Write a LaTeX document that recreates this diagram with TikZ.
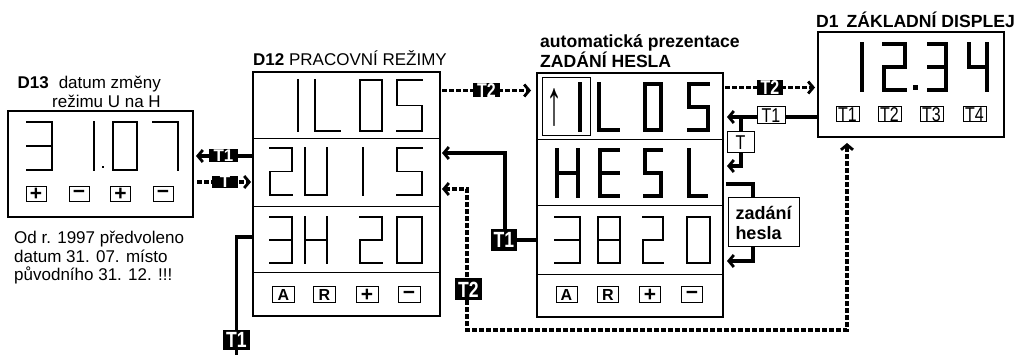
\documentclass[tikz,border=0pt]{standalone}
\usepackage{fontspec}
\setmainfont{Liberation Sans}
\newfontfamily\narrowsf[FakeStretch=0.8]{Liberation Sans}
\usetikzlibrary{arrows.meta,backgrounds}
\def\gZero{(0,0)--(1,0)--(1,1)--(0,1)--cycle}
\def\gOne{(0,0)--(0,1)}
\def\gTwo{(0,0)--(1,0)--(1,.5)--(0,.5)--(0,1)--(1,1)}
\def\gThree{(0,0)--(1,0)--(1,1)--(0,1) (0,.5)--(1,.5)}
\def\gFour{(0,0)--(0,.5)--(1,.5) (1,0)--(1,1)}
\def\gFive{(1,0)--(0,0)--(0,.5)--(1,.5)--(1,1)--(0,1)}
\def\gSeven{(0,0)--(1,0)--(1,1)}
\def\gEight{(0,0)--(1,0)--(1,1)--(0,1)--cycle (0,.5)--(1,.5)}
\def\gH{(0,0)--(0,1) (1,0)--(1,1) (0,.5)--(1,.5)}
\def\gL{(0,0)--(0,1)--(1,1)}
\def\gU{(0,0)--(0,1)--(1,1)--(1,0)}
\def\gE{(1,0)--(0,0)--(0,1)--(1,1) (0,.5)--(1,.5)}
\newcommand{\glyph}[6]{\draw[#1,shift={(#2,#3)},xscale=#4,yscale=#5] #6;}
\begin{document}
\begin{tikzpicture}[x=1pt,y=-1pt,
  frame/.style={draw, line width=2pt, inner sep=0pt, outer sep=0pt},
  thinseg/.style={line width=1.6pt, line cap=rect, line join=miter},
  thickseg/.style={line width=4.2pt, line cap=rect, line join=miter},
  divider/.style={line width=1pt},
  txt/.style={inner sep=0pt, font=\fontsize{17}{19}\selectfont},
  btxt/.style={inner sep=0pt, font=\bfseries\fontsize{17.6}{19}\selectfont},
  btn/.style={draw, line width=1pt, inner sep=0pt, minimum height=15pt, font=\bfseries\fontsize{16}{16}\selectfont},
  sgn/.style={font=\bfseries\fontsize{21}{21}\selectfont},
  dbtn/.style={draw, line width=1pt, inner sep=0pt, minimum height=15pt, minimum width=23pt, font=\narrowsf\fontsize{20}{20}\selectfont},
  blk/.style={fill=black, text=white, inner sep=0pt, font=\bfseries\fontsize{17}{17}\selectfont},
  blkmid/.style={fill=black, text=white, inner sep=0pt, font=\narrowsf\bfseries\fontsize{20}{20}\selectfont},
  blkbig/.style={fill=black, text=white, inner sep=0pt, font=\narrowsf\bfseries\fontsize{22}{22}\selectfont},
  wlbl/.style={draw, fill=white, line width=1pt, inner sep=0pt, font=\narrowsf\fontsize{20}{20}\selectfont},
  conn/.style={line width=3.6pt},
  dconn/.style={line width=3.6pt, dash pattern=on 4.5pt off 2.5pt},
  tip/.style={-{Straight Barb[length=5pt,width=12pt,line width=2.8pt]}},
  tipboth/.style={{Straight Barb[length=5pt,width=12pt,line width=2.8pt]}-{Straight Barb[length=5pt,width=12pt,line width=2.8pt]}}
]
\useasboundingbox (0,0) rectangle (1018,355);

% ---------- frames ----------
\node[frame, minimum width=185pt, minimum height=106pt] (d13) at (100.5,164) {};
\node[frame, minimum width=187pt, minimum height=244pt] (d12) at (346.5,194) {};
\node[frame, minimum width=186pt, minimum height=244pt] (m) at (630,195) {};
\node[frame, minimum width=186pt, minimum height=105pt] (d1) at (911,84.5) {};

% ---------- titles ----------
\node[txt, anchor=base east] (t13a) at (161,89) {\textbf{D13}\hspace{10pt}datum změny};
\node[txt, anchor=base east] (t13b) at (161,108) {režimu U na H};
\node[txt, anchor=base west] (n1) at (14,244) {Od r. 1997 předvoleno};
\node[txt, anchor=base west] (n2) at (14,262.5) {datum 31. 07. místo};
\node[txt, anchor=base west] (n3) at (14,281) {původního 31. 12. !!!};
\node[txt, anchor=base west] (t12) at (253,66) {\textbf{D12} PRACOVNÍ REŽIMY};
\node[btxt, anchor=base west] (tma) at (540,48) {automatická prezentace};
\node[btxt, anchor=base west] (tmb) at (540,68) {ZADÁNÍ HESLA};
\node[btxt, anchor=base east] (t1) at (1015,28) {D1\hspace{8pt}ZÁKLADNÍ DISPLEJ};

% ---------- dividers ----------
\foreach \yy in {139,207,273} \draw[divider] (253,\yy) -- (440,\yy);
\foreach \yy in {140,206,275} \draw[divider] (537,\yy) -- (723,\yy);

% ---------- D13 digits ----------
\glyph{thinseg}{27}{122}{25}{48}{\gThree}
\glyph{thinseg}{94}{122}{1}{48}{\gOne}
\fill (101.8,165.8) rectangle +(2.6,2.6);
\glyph{thinseg}{113}{122}{24}{48}{\gZero}
\glyph{thinseg}{153}{122}{25}{48}{\gSeven}

% ---------- D12 digits ----------
\glyph{thinseg}{298}{80}{1}{51}{\gOne}
\glyph{thinseg}{315}{80}{25}{51}{\gL}
\glyph{thinseg}{360}{80}{22}{51}{\gZero}
\glyph{thinseg}{397}{80}{25}{51}{\gFive}
\glyph{thinseg}{270}{148}{22}{47}{\gTwo}
\glyph{thinseg}{305}{148}{22}{47}{\gU}
\glyph{thinseg}{363}{148}{1}{47}{\gOne}
\glyph{thinseg}{397}{148}{25}{47}{\gFive}
\glyph{thinseg}{270}{217}{22}{46}{\gThree}
\glyph{thinseg}{305}{217}{22}{46}{\gH}
\glyph{thinseg}{360}{217}{22}{46}{\gTwo}
\glyph{thinseg}{397}{217}{25}{46}{\gZero}

% ---------- middle digits ----------
\node[draw, line width=1pt, minimum width=48pt, minimum height=58pt, inner sep=0pt] (upbox) at (566,107) {};
\node[inner sep=0pt, font=\fontsize{32}{32}\selectfont] (uparrow) at (554,107) {\scalebox{1}[2]{↑}};
\glyph{thickseg}{580}{84}{1}{46}{\gOne}
\glyph{thickseg}{599}{84}{19}{46}{\gL}
\glyph{thickseg}{645}{84}{16}{46}{\gZero}
\glyph{thickseg}{689}{84}{19}{46}{\gFive}
\glyph{thickseg}{557}{150}{21}{46}{\gH}
\glyph{thickseg}{600}{150}{18}{46}{\gE}
\glyph{thickseg}{645}{150}{16}{46}{\gFive}
\glyph{thickseg}{689}{150}{17}{46}{\gL}
\glyph{thinseg}{555}{217}{25}{46}{\gThree}
\glyph{thinseg}{598}{217}{22}{46}{\gEight}
\glyph{thinseg}{643}{217}{20}{46}{\gTwo}
\glyph{thinseg}{687}{217}{23}{46}{\gZero}

% ---------- D1 digits ----------
\glyph{thickseg}{862}{44}{1}{46}{\gOne}
\glyph{thickseg}{884}{44}{21}{46}{\gTwo}
\fill (912.5,85.5) rectangle +(5,5);
\glyph{thickseg}{929}{44}{17}{46}{\gThree}
\glyph{thickseg}{969}{44}{18}{46}{\gFour}

% ---------- buttons ----------
\node[btn, sgn, minimum width=20pt] (b13a) at (36,194.5) {+};
\node[btn, sgn, minimum width=20pt] (b13b) at (79,194.5) {−};
\node[btn, sgn, minimum width=20pt] (b13c) at (120.5,194.5) {+};
\node[btn, sgn, minimum width=20pt] (b13d) at (163,194.5) {−};
\node[btn, minimum width=22pt, minimum height=16pt] (b12a) at (283.5,295) {A};
\node[btn, minimum width=22pt, minimum height=16pt] (b12b) at (324.5,295) {R};
\node[btn, sgn, minimum width=22pt, minimum height=16pt] (b12c) at (367,295) {+};
\node[btn, sgn, minimum width=22pt, minimum height=16pt] (b12d) at (409,295) {−};
\node[btn, minimum width=21pt, minimum height=16pt] (bma) at (566.5,295) {A};
\node[btn, minimum width=21pt, minimum height=16pt] (bmb) at (608,295) {R};
\node[btn, sgn, minimum width=21pt, minimum height=16pt] (bmc) at (650,295) {+};
\node[btn, sgn, minimum width=21pt, minimum height=16pt] (bmd) at (692,295) {−};
\node[dbtn] (k1) at (847.5,114.5) {T1};
\node[dbtn] (k2) at (889.5,114.5) {T2};
\node[dbtn] (k3) at (931.5,114.5) {T3};
\node[dbtn] (k4) at (974.5,114.5) {T4};

% ---------- connector labels ----------
\node[blk, minimum width=29pt, minimum height=13pt] (L1) at (223.5,156) {T1};
\node[blk, minimum width=26pt, minimum height=11pt] (L2) at (225,182) {T};
\node[blkbig, minimum width=27pt, minimum height=20pt] (L3) at (236.5,340) {T1};
\node[blkmid, minimum width=27pt, minimum height=14pt] (L4) at (486.5,90.5) {T2};
\node[blkbig, minimum width=26pt, minimum height=22pt] (L5) at (504,240) {T1};
\node[blkbig, minimum width=27pt, minimum height=22pt] (L6) at (468.5,289.5) {T2};
\node[blkmid, minimum width=26pt, minimum height=15pt] (L7) at (770,87.5) {T2};
\node[wlbl, minimum width=28pt, minimum height=17pt] (L8) at (771,115.5) {T1};
\node[wlbl, minimum width=27pt, minimum height=21pt] (L9) at (740.5,142.5) {T};
\node[draw, fill=white, line width=1pt, inner sep=0pt, minimum width=71pt, minimum height=49pt, align=left, font=\bfseries\fontsize{18}{20}\selectfont] (Z) at (763.5,222.5) {zadání\\hesla};

% ---------- waypoints ----------
\coordinate (c3) at (236.5,237);
\coordinate (c3e) at (236.5,357);
\coordinate (c5) at (505,153);
\coordinate (c6a) at (467,189);
\coordinate (c6b) at (467,330);
\coordinate (c6c) at (847,330);
\coordinate (c8) at (741,117);
\coordinate (c9) at (741,166);
\coordinate (c10a) at (753,184);
\coordinate (c10b) at (753,261);

% ---------- connectors ----------
\begin{scope}[on background layer]
\draw[conn, tip, shorten >=3pt] (d12.west |- L1) -- (d13.east |- L1);
\draw[dconn, tip, shorten <=4pt, shorten >=2pt] (d13.east |- L2) -- (d12.west |- L2);
\draw[conn] (d12.west |- c3) -- (c3) -- (c3e);
\draw[dconn, tip, shorten <=2pt, shorten >=6pt] (d12.east |- L4) -- (m.west |- L4);
\draw[conn, tip, shorten >=2pt] (m.west |- L5) -- (c5 |- L5) -- (c5) -- (d12.east |- c5);
\draw[dconn, tipboth, shorten <=2pt, shorten >=6pt] (d12.east |- c6a) -- (c6a) -- (c6b) -- (c6c) -- (c6c |- d1.south);
\draw[dconn, tip, shorten <=2pt, shorten >=3pt] (m.east |- L7) -- (d1.west |- L7);
\draw[conn, tip, shorten >=4pt] (d1.west |- c8) -- (m.east |- c8);
\draw[conn, tip, shorten >=4pt] (c8) -- (c9) -- (m.east |- c9);
\draw[conn, shorten <=3pt] (m.east |- c10a) -- (c10a) -- (c10a |- Z.north);
\draw[conn, tip, shorten >=4pt] (c10b |- Z.south) -- (c10b) -- (m.east |- c10b);
\end{scope}
\end{tikzpicture}
\end{document}
